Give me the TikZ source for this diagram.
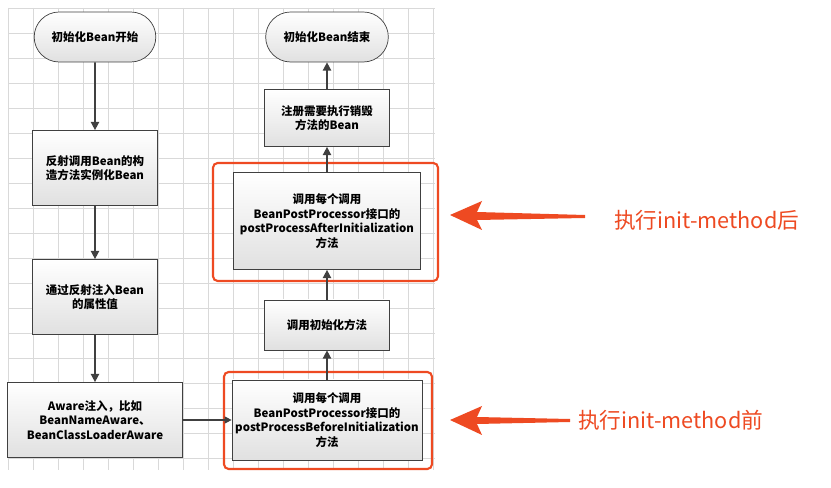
\documentclass[tikz,border=0pt]{standalone}
\usepackage{fontspec}
\setmainfont{Noto Sans CJK SC}
\usetikzlibrary{arrows.meta,shapes.misc}
\definecolor{redc}{HTML}{EE4A22}
\begin{document}
\begin{tikzpicture}[x=0.03cm,y=-0.03cm,
  box/.style={draw=black!75,line width=0.6pt,top color=white,bottom color=black!12,align=center,font=\fontsize{9.8pt}{12.4pt}\selectfont\bfseries,inner sep=1pt},
  pill/.style={box,rounded rectangle},
  conn/.style={draw=black!75,line width=1.3pt,-{Triangle[length=7pt,width=7pt]}},
  frame/.style={draw=redc,line width=1.8pt,rounded corners=4pt}]
\useasboundingbox (0,0) rectangle (831,488);
\fill[white] (0,0) rectangle (831,488);
\foreach \x in {8,33,...,433} \draw[black!15] (\x,8)--(\x,470);
\foreach \y in {8,33,...,468} \draw[black!15] (8,\y)--(435,\y);
\node[pill,minimum width=124*0.03cm,minimum height=50*0.03cm] (s) at (95,37) {初始化Bean开始};
\node[box,minimum width=125*0.03cm,minimum height=75*0.03cm] (b1) at (95,168) {反射调用Bean的构\\造方法实例化Bean};
\node[box,minimum width=125*0.03cm,minimum height=75*0.03cm] (b2) at (95,297) {通过反射注入Bean\\的属性值};
\node[box,minimum width=175*0.03cm,minimum height=75*0.03cm] (aw) at (95,420) {Aware注入，比如\\BeanNameAware、\\BeanClassLoaderAware};
\node[box,minimum width=190*0.03cm,minimum height=80*0.03cm] (bef) at (327,420) {调用每个调用\\BeanPostProcessor接口的\\postProcessBeforeInitialization\\方法};
\node[box,minimum width=125*0.03cm,minimum height=50*0.03cm] (ini) at (327,325) {调用初始化方法};
\node[box,minimum width=187*0.03cm,minimum height=97*0.03cm] (aft) at (327,221) {调用每个调用\\BeanPostProcessor接口的\\postProcessAfterInitialization\\方法};
\node[box,minimum width=125*0.03cm,minimum height=57*0.03cm] (reg) at (327,118) {注册需要执行销毁\\方法的Bean};
\node[pill,minimum width=125*0.03cm,minimum height=50*0.03cm] (e) at (327,37) {初始化Bean结束};
\draw[frame] (224,372) rectangle (432,469);
\draw[frame] (213,163) rectangle (438,281);
\draw[conn] (s)--(b1);
\draw[conn] (b1)--(b2);
\draw[conn] (b2)--(aw);
\draw[draw=black!75,line width=1pt,-{Triangle[length=6pt,width=6pt]}] (aw)--(bef);
\draw[conn] (bef)--(ini);
\draw[conn] (ini)--(aft);
\draw[conn] (aft)--(reg);
\draw[conn] (reg)--(e);
\node[text=redc,font=\fontsize{18.5pt}{20pt}\selectfont,anchor=west,inner sep=0pt] (l1) at (614,220) {执行init-method后};
\node[text=redc,font=\fontsize{18.5pt}{20pt}\selectfont,anchor=west,inner sep=0pt] (l2) at (578,420) {执行init-method前};
\fill[redc] (450,215)--(482,201)--(477,212)--(585,215)--(585,218)--(477,220)--(482,230)--cycle;
\fill[redc] (450,420)--(482,406)--(477,417)--(570,419)--(570,422)--(477,424)--(482,435)--cycle;
\end{tikzpicture}
\end{document}
